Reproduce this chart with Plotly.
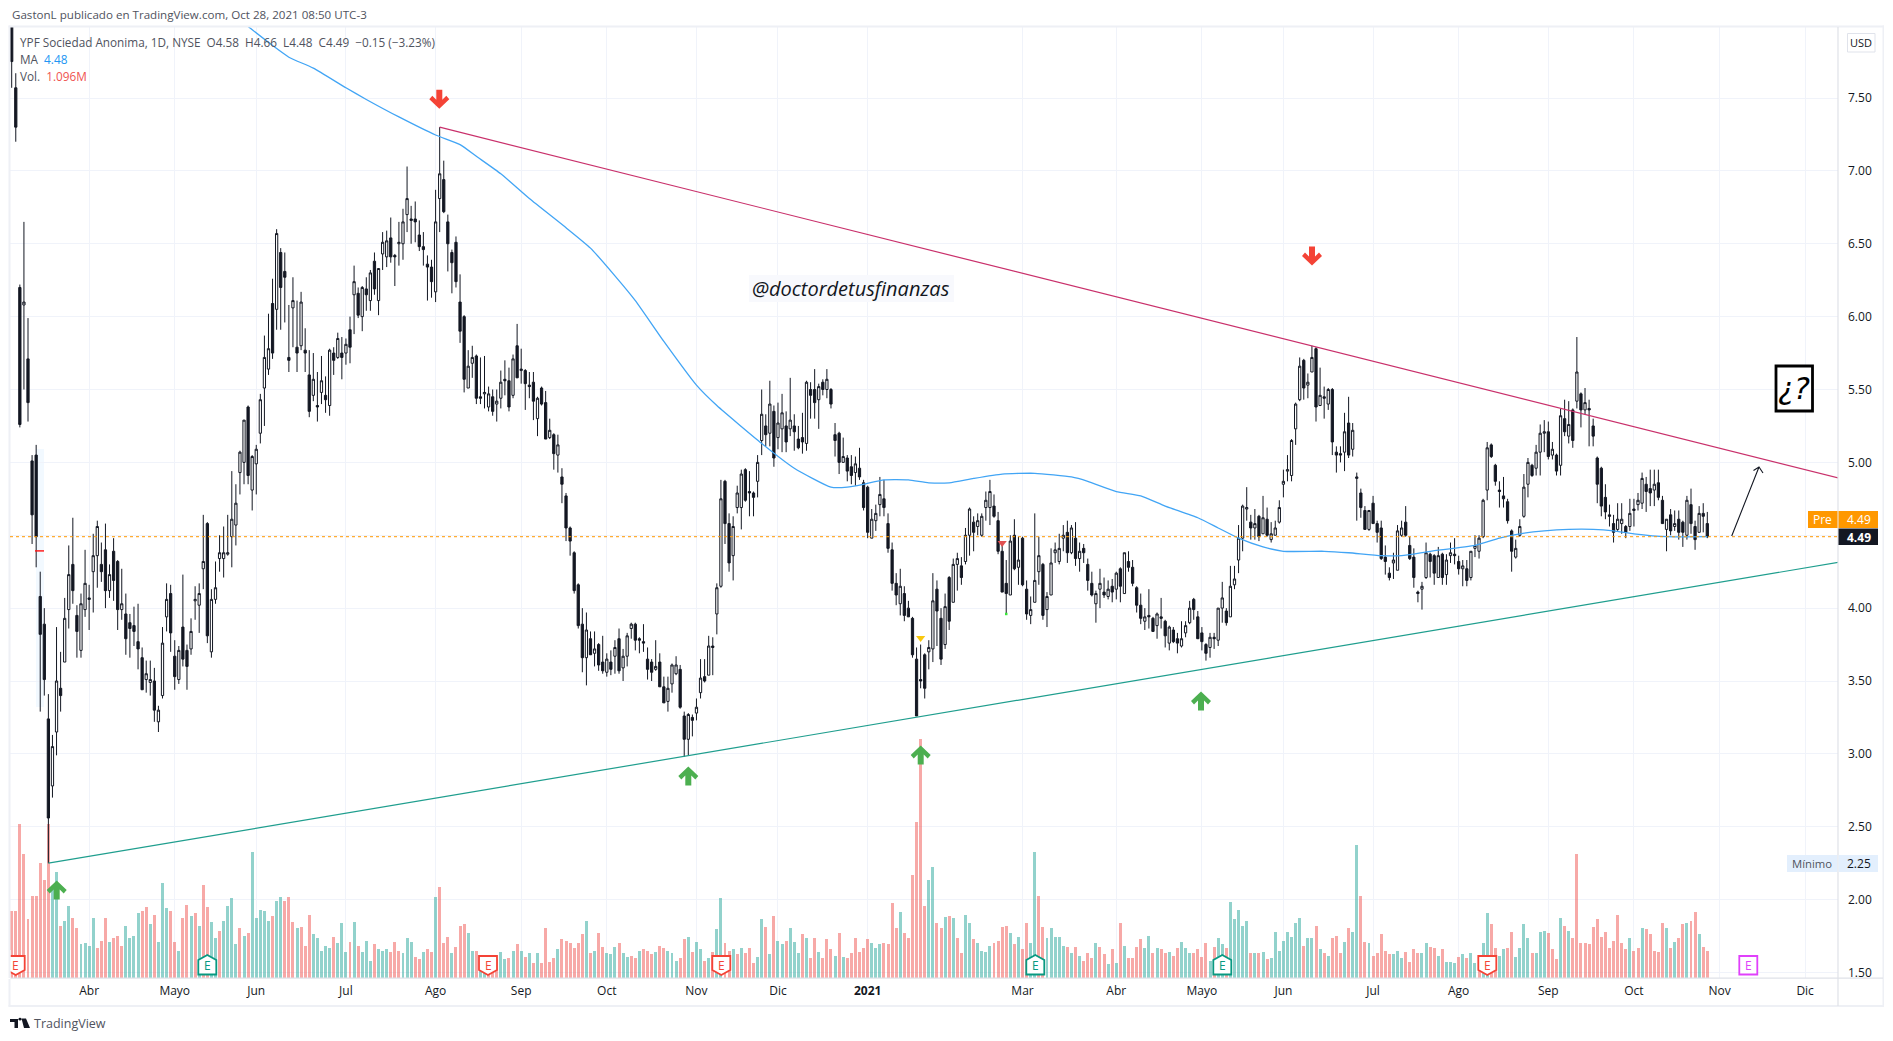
import plotly.graph_objects as go

# Each bar: open, high, low, close, volume in millions (negative = selling volume, drawn red)
mar20 = [(8.00,8.10,7.57,7.75,-2.7),(7.57,7.67,7.20,7.30,-2.7),(6.20,6.22,5.24,5.26,-6.2),(6.08,6.65,5.50,6.10,-5.0),
(5.71,5.99,5.28,5.41,-2.35),(5.01,5.05,4.44,4.64,-3.3),(5.05,5.12,4.28,4.49,-3.3),(4.08,4.25,3.29,3.82,-4.6),
(3.89,4.00,3.40,3.51,-3.95),(3.24,3.41,2.25,2.56,-6.2),(2.78,3.13,2.70,3.05,3.7),(3.15,3.87,2.99,3.50,4.25),
(3.45,3.70,3.29,3.40,-2.1),(3.63,4.07,3.63,3.93,2.3),(3.99,4.43,3.86,4.23,2.9),(4.30,4.62,4.03,4.12,-2.4),
(3.95,4.02,3.66,3.84,-2.0),(3.71,4.10,3.66,4.03,1.35),(3.99,4.40,3.94,4.17,1.4)]
abr20 = [(4.07,4.16,3.85,4.06,1.27),(4.25,4.51,3.97,4.36,2.4),(4.36,4.60,4.14,4.56,-1.2),(4.30,4.45,4.18,4.25,-1.5),
(4.40,4.58,4.00,4.12,-2.4),(4.12,4.30,4.07,4.23,1.45),(4.39,4.48,4.05,4.19,-1.6),(4.32,4.33,3.85,3.99,-1.7),
(3.99,4.27,3.92,4.03,-1.3),(3.96,4.10,3.68,3.79,2.1),(3.90,3.96,3.66,3.86,1.6),(3.88,4.01,3.74,3.84,1.7),
(3.77,4.03,3.58,3.72,2.6),(3.66,3.73,3.44,3.44,-2.7),(3.51,3.64,3.42,3.55,-2.85),(3.49,3.64,3.40,3.51,2.15),
(3.50,3.59,3.22,3.30,-2.55),(3.22,3.33,3.15,3.30,1.45),(3.40,3.87,3.38,3.76,3.8),(3.94,4.17,3.84,4.06,2.8),
(4.10,4.16,3.70,3.83,-2.7)]
may20 = [(3.67,3.78,3.44,3.53,-1.45),(3.51,3.74,3.48,3.71,1.1),(3.87,4.23,3.60,3.65,-2.4),(3.71,3.75,3.44,3.60,-2.95),
(3.72,3.93,3.68,3.84,2.5),(4.05,4.15,3.92,4.06,-2.6),(4.02,4.17,3.83,4.10,2.1),(4.27,4.64,4.13,4.32,-3.75),
(4.58,4.59,3.76,3.81,-2.85),(3.70,4.13,3.66,4.06,2.25),(4.06,4.32,4.03,4.14,1.6),(4.34,4.50,4.25,4.38,-1.9),
(4.34,4.56,4.21,4.38,2.3),(4.37,4.64,4.36,4.38,2.9),(4.49,4.94,4.28,4.61,3.2),(4.57,4.85,4.43,4.72,1.35),
(4.93,5.08,4.78,5.07,-2.0),(5.00,5.29,4.85,5.29,1.7),(5.38,5.39,4.85,4.91,-1.8),(4.81,5.05,4.67,5.04,5.05)]
jun20 = [(4.99,5.12,4.78,5.09,2.4),(5.20,5.47,5.13,5.43,2.75),(5.51,5.87,5.25,5.72,2.7),(5.64,6.02,5.60,5.78,2.3),
(6.09,6.26,5.71,5.75,-2.5),(6.05,6.60,5.91,6.57,3.1),(6.44,6.47,5.91,6.20,3.25),(6.31,6.44,5.96,6.27,-3.1),
(5.72,6.08,5.62,5.70,-3.25),(6.06,6.27,5.79,6.11,-2.25),(5.79,6.11,5.62,5.75,2.0),(5.80,6.17,5.77,6.10,-2.05),
(5.77,5.92,5.62,5.75,-1.3),(5.60,5.77,5.31,5.35,-2.55),(5.46,5.75,5.42,5.57,1.75),(5.39,5.62,5.28,5.38,1.6),
(5.48,5.73,5.40,5.56,1.1),(5.46,5.59,5.34,5.43,1.3),(5.39,5.78,5.32,5.77,1.2),(5.75,5.79,5.60,5.70,-1.65),
(5.72,5.89,5.71,5.85,1.4),(5.75,5.86,5.57,5.72,2.2)]
jul20 = [(5.75,5.85,5.67,5.81,1.05),(5.91,6.00,5.68,5.79,-1.45),(6.15,6.35,5.88,6.24,2.25),(6.16,6.20,5.99,6.01,-1.3),
(6.00,6.21,5.90,6.20,1.05),(6.19,6.27,6.04,6.15,1.5),(6.11,6.32,6.04,6.30,0.7),(6.38,6.44,6.15,6.19,-1.35),
(6.11,6.33,6.01,6.33,1.15),(6.43,6.58,6.32,6.51,1.1),(6.41,6.59,6.34,6.52,1.15),(6.54,6.68,6.37,6.41,-1.05),
(6.42,6.43,6.21,6.41,-1.45),(6.50,6.65,6.35,6.51,-1.1),(6.50,6.74,6.39,6.65,1.0),(6.70,7.03,6.58,6.81,1.6),
(6.67,6.76,6.50,6.66,1.45),(6.67,6.79,6.51,6.65,-0.85),(6.56,6.66,6.45,6.48,-0.75),(6.48,6.58,6.35,6.46,1.05),
(6.36,6.42,6.11,6.34,-1.15),(6.34,6.39,6.13,6.24,-1.05)]
ago20 = [(6.17,6.87,6.10,6.65,3.25),(6.81,7.30,6.58,6.98,-3.65),(6.94,7.07,6.71,6.72,-1.4),(6.65,6.70,6.31,6.50,-1.65),
(6.44,6.46,6.16,6.37,1.0),(6.51,6.55,6.20,6.24,-1.25),(6.10,6.29,5.82,5.90,-2.1),(6.00,6.01,5.48,5.57,-2.15),
(5.51,5.77,5.51,5.66,1.8),(5.68,5.80,5.58,5.72,1.1),(5.73,5.74,5.40,5.44,-1.1),(5.45,5.72,5.40,5.44,0.6),
(5.47,5.73,5.37,5.48,0.7),(5.38,5.52,5.35,5.47,-0.7),(5.45,5.50,5.32,5.35,-0.8),(5.40,5.50,5.28,5.42,-0.75),
(5.44,5.63,5.37,5.55,1.05),(5.57,5.70,5.46,5.56,0.75),(5.56,5.65,5.35,5.38,-0.8),(5.46,5.74,5.44,5.71,1.1),
(5.80,5.95,5.58,5.58,-1.35)]
sep20 = [(5.63,5.78,5.54,5.64,1.1),(5.63,5.64,5.36,5.54,-0.85),(5.53,5.62,5.44,5.52,1.0),(5.55,5.62,5.29,5.42,-0.6),
(5.30,5.45,5.18,5.44,1.0),(5.51,5.52,5.39,5.40,-0.6),(5.41,5.49,5.16,5.16,-2.0),(5.17,5.30,5.16,5.22,-0.65),
(5.19,5.20,4.95,5.06,-0.8),(5.05,5.19,4.93,5.12,1.15),(4.90,4.96,4.72,4.85,-1.55),(4.77,4.79,4.46,4.55,-1.5),
(4.55,4.56,4.36,4.46,-1.4),(4.38,4.39,4.10,4.12,-1.2),(4.16,4.17,3.86,3.88,-1.4),(3.89,4.00,3.56,3.66,-1.75),
(3.66,3.97,3.47,3.85,2.3),(3.79,3.84,3.68,3.68,-1.0),(3.69,3.84,3.60,3.72,1.1),(3.75,3.76,3.57,3.61,-1.8),
(3.63,3.81,3.55,3.57,-1.25)]
oct20 = [(3.56,3.69,3.53,3.65,1.0),(3.63,3.71,3.54,3.58,0.95),(3.67,3.78,3.55,3.73,1.25),(3.79,3.86,3.55,3.57,-1.4),
(3.59,3.72,3.50,3.67,1.0),(3.67,3.83,3.60,3.81,0.85),(3.86,3.90,3.79,3.89,-0.9),(3.89,3.90,3.71,3.78,-0.8),
(3.79,3.80,3.69,3.78,1.1),(3.77,3.89,3.70,3.76,-1.15),(3.65,3.73,3.51,3.58,-1.1),(3.63,3.65,3.50,3.56,-0.95),
(3.58,3.78,3.57,3.60,1.05),(3.63,3.69,3.46,3.46,-1.3),(3.46,3.53,3.35,3.35,-1.2),(3.36,3.53,3.29,3.45,1.1),
(3.48,3.62,3.42,3.61,1.0),(3.55,3.67,3.54,3.61,0.7),(3.58,3.61,3.31,3.32,-0.8),(3.26,3.29,2.98,3.10,-1.55),
(3.10,3.28,2.99,3.27,1.65),(3.25,3.27,3.12,3.23,-1.05)]
nov20 = [(3.28,3.38,3.23,3.32,1.45),(3.42,3.65,3.38,3.52,1.15),(3.53,3.65,3.49,3.50,-0.7),(3.54,3.81,3.54,3.74,0.8),
(3.74,3.80,3.54,3.73,-1.05),(3.96,4.17,3.82,4.14,1.95),(4.15,4.88,4.14,4.75,3.2),(4.87,4.88,4.44,4.58,-1.4),
(4.58,4.65,4.25,4.31,-1.1),(4.36,4.63,4.19,4.56,1.15),(4.69,4.84,4.65,4.79,-0.95),(4.69,4.95,4.54,4.92,1.2),
(4.95,4.96,4.73,4.74,-1.0),(4.80,4.94,4.63,4.79,-1.2),(4.79,4.80,4.63,4.76,-0.6),(4.87,5.05,4.76,5.00,0.85),
(5.15,5.50,5.05,5.33,2.35),(5.25,5.33,5.11,5.19,-2.05),(5.20,5.56,5.11,5.40,0.95),(5.35,5.39,4.97,5.03,-2.5)]
dic20 = [(5.17,5.41,5.09,5.27,1.5),(5.23,5.47,5.07,5.34,1.35),(5.25,5.35,5.07,5.14,-1.5),(5.23,5.58,5.18,5.29,2.0),
(5.25,5.33,5.08,5.21,1.45),(5.16,5.25,5.09,5.10,1.0),(5.17,5.34,5.06,5.14,-1.75),(5.13,5.56,5.08,5.55,1.6),
(5.50,5.55,5.30,5.46,-0.8),(5.50,5.64,5.30,5.41,-1.6),(5.43,5.54,5.23,5.52,1.05),(5.55,5.57,5.46,5.50,-0.8),
(5.50,5.64,5.44,5.57,-1.55),(5.50,5.51,5.37,5.40,-1.15),(5.19,5.27,5.04,5.15,0.9),(5.20,5.21,4.92,5.00,-1.8),
(5.00,5.17,5.00,5.04,0.85),(5.03,5.05,4.87,4.94,-0.8),(4.97,5.05,4.85,4.91,-1.0),(4.93,5.04,4.84,4.99,-1.6),
(4.96,5.10,4.88,4.90,-1.05),(4.86,4.88,4.67,4.69,-1.2)]
ene_feb21 = [(4.83,4.84,4.48,4.52,-1.55),(4.48,4.68,4.48,4.61,1.4),(4.60,4.71,4.53,4.65,1.2),(4.71,4.90,4.63,4.78,1.35),
(4.75,4.88,4.63,4.69,-1.4),(4.58,4.65,4.38,4.41,-1.35),(4.40,4.45,4.12,4.17,-3.0),(4.17,4.24,4.02,4.09,-2.0),
(4.03,4.27,3.95,4.15,2.65),(4.10,4.15,3.91,3.95,-1.8),(4.00,4.05,3.94,3.94,-1.6),(3.93,3.94,3.66,3.68,-4.15),
(3.65,3.73,3.26,3.26,-6.25),(3.51,3.75,3.45,3.50,-9.6),(3.68,3.69,3.38,3.45,-2.9),(3.70,3.78,3.58,3.73,3.95),
(3.72,4.24,3.63,4.05,4.45),(4.13,4.19,3.74,3.98,-2.2),(3.93,4.00,3.61,3.65,-2.0),(3.75,4.10,3.72,4.01,2.45),
(4.21,4.22,3.85,3.91,-2.5),(4.04,4.34,4.04,4.30,2.4),(4.30,4.38,4.12,4.34,-1.6),(4.29,4.35,4.16,4.21,-1.0),
(4.32,4.55,4.30,4.50,2.55),(4.50,4.69,4.36,4.68,2.2),(4.59,4.63,4.39,4.52,-1.55),(4.56,4.65,4.50,4.60,1.4),
(4.50,4.65,4.49,4.63,1.1),(4.69,4.80,4.60,4.74,1.05),(4.69,4.88,4.57,4.80,1.3),(4.70,4.78,4.62,4.63,-1.4),
(4.60,4.66,4.37,4.39,-1.5),(4.39,4.45,4.11,4.11,-2.05),(4.17,4.33,3.96,4.10,-2.1),(4.09,4.50,4.09,4.46,1.8),
(4.50,4.61,4.26,4.27,-1.35),(4.28,4.49,4.16,4.33,1.65)]
mar21 = [(4.48,4.49,4.15,4.16,-1.15),(4.13,4.19,3.92,3.96,-2.2),(3.95,4.08,3.89,3.99,1.4),(4.04,4.65,4.04,4.19,5.05),
(4.25,4.49,4.16,4.36,-3.3),(4.30,4.31,3.92,3.95,-2.05),(3.99,4.11,3.87,4.08,1.6),(4.09,4.41,4.09,4.31,2.0),
(4.38,4.45,4.31,4.40,1.65),(4.32,4.51,4.30,4.41,1.65),(4.48,4.57,4.39,4.50,1.3),(4.52,4.60,4.31,4.38,-1.25),
(4.38,4.57,4.37,4.55,1.0),(4.48,4.59,4.29,4.34,-1.25),(4.34,4.45,4.25,4.39,0.9),(4.41,4.44,4.31,4.38,-0.7),
(4.30,4.34,4.12,4.19,-1.0),(4.17,4.25,4.08,4.09,-0.8),(4.03,4.12,3.90,4.10,1.4),(4.13,4.27,4.00,4.17,-1.25),
(4.11,4.21,4.07,4.09,-0.95),(4.08,4.19,4.06,4.13,0.55),(4.15,4.20,4.04,4.11,-1.15)]
abr21 = [(4.13,4.25,4.06,4.24,0.6),(4.27,4.28,4.04,4.15,-2.2),(4.10,4.38,4.10,4.38,1.3),(4.32,4.39,4.25,4.28,-0.8),
(4.28,4.33,4.15,4.17,-0.8),(4.14,4.15,3.97,4.02,-1.25),(4.02,4.10,3.89,3.93,-1.55),(3.91,4.00,3.85,3.94,1.2),
(3.95,4.13,3.86,3.94,1.7),(3.93,3.94,3.84,3.84,-1.0),(3.88,3.97,3.79,3.96,1.2),(3.94,4.07,3.86,3.93,-1.15),
(3.91,3.92,3.73,3.81,-1.0),(3.76,3.88,3.71,3.87,1.05),(3.85,3.87,3.76,3.77,-0.9),(3.79,3.83,3.69,3.76,-1.2),
(3.74,3.91,3.73,3.79,1.45),(3.83,3.91,3.80,3.88,1.2),(3.90,4.05,3.89,4.00,1.0),(4.06,4.07,3.92,3.99,-1.0),
(3.94,3.98,3.79,3.79,-1.15)]
may21 = [(3.83,3.87,3.71,3.77,-0.85),(3.75,3.76,3.64,3.69,-1.4),(3.73,3.83,3.66,3.80,0.7),(3.80,3.83,3.72,3.79,-1.25),
(3.78,4.00,3.74,4.00,1.6),(4.00,4.18,3.90,4.07,1.35),(3.98,4.00,3.88,3.90,-1.2),(3.94,4.29,3.94,4.15,3.05),
(4.16,4.29,4.13,4.20,2.35),(4.33,4.57,4.24,4.48,2.75),(4.48,4.71,4.39,4.70,2.1),(4.68,4.83,4.60,4.69,2.3),
(4.59,4.64,4.47,4.55,-1.0),(4.55,4.68,4.47,4.58,1.0),(4.63,4.64,4.46,4.49,-1.0),(4.51,4.77,4.51,4.62,1.05),
(4.61,4.69,4.49,4.50,-0.75),(4.47,4.59,4.45,4.51,0.8),(4.50,4.60,4.50,4.55,1.85),(4.59,4.74,4.58,4.69,1.1)]
jun21 = [(4.85,4.95,4.76,4.87,1.5),(4.94,5.05,4.87,4.95,1.85),(4.91,5.16,4.87,5.15,1.65),(5.23,5.41,5.12,5.40,2.2),
(5.43,5.72,5.42,5.66,2.4),(5.70,5.71,5.43,5.51,-1.3),(5.53,5.61,5.44,5.55,1.6),(5.62,5.80,5.62,5.72,1.6),
(5.78,5.79,5.28,5.38,-2.1),(5.39,5.65,5.39,5.46,1.15),(5.45,5.52,5.30,5.44,-1.0),(5.40,5.51,5.36,5.50,0.9),
(5.50,5.51,5.05,5.14,-1.6),(5.07,5.11,4.93,5.05,-1.7),(5.06,5.11,5.00,5.05,-1.0),(5.07,5.34,4.94,5.21,1.45),
(5.27,5.45,5.03,5.05,-2.0),(5.09,5.27,5.04,5.22,1.85),(4.89,4.93,4.60,4.90,5.35),(4.79,4.82,4.62,4.69,-3.3),
(4.67,4.70,4.54,4.54,-1.45),(4.54,4.67,4.53,4.67,1.4)]
jul21 = [(4.72,4.77,4.58,4.58,-0.9),(4.58,4.60,4.45,4.52,-1.0),(4.55,4.60,4.33,4.34,-1.75),(4.35,4.43,4.23,4.32,-1.1),
(4.24,4.28,4.19,4.21,-0.95),(4.31,4.38,4.20,4.33,0.95),(4.26,4.57,4.26,4.53,1.1),(4.50,4.60,4.49,4.55,0.8),
(4.59,4.70,4.49,4.50,-1.05),(4.43,4.49,4.33,4.34,-0.65),(4.35,4.41,4.14,4.21,-1.15),(4.11,4.12,4.04,4.10,-1.0),
(4.13,4.18,3.99,4.15,1.0),(4.21,4.45,4.20,4.38,1.4),(4.37,4.38,4.21,4.32,-1.25),(4.36,4.37,4.16,4.24,-1.2),
(4.21,4.42,4.21,4.36,0.9),(4.37,4.38,4.16,4.21,-1.15),(4.23,4.37,4.16,4.33,0.65),(4.36,4.45,4.31,4.38,0.65),
(4.37,4.48,4.30,4.36,0.6)]
ago21 = [(4.32,4.36,4.23,4.27,-0.85),(4.27,4.33,4.15,4.29,0.95),(4.27,4.33,4.15,4.19,-0.8),(4.21,4.39,4.19,4.39,1.0),
(4.41,4.50,4.35,4.43,0.6),(4.39,4.50,4.34,4.48,-0.85),(4.49,4.75,4.48,4.74,1.4),(4.81,5.14,4.74,5.10,2.6),
(5.12,5.13,5.03,5.04,-2.15),(4.98,4.99,4.84,4.87,-1.2),(4.81,4.87,4.69,4.80,0.9),(4.77,4.90,4.69,4.75,1.15),
(4.73,4.75,4.58,4.60,-1.2),(4.53,4.54,4.25,4.39,-1.85),(4.35,4.47,4.34,4.41,0.85),(4.50,4.61,4.49,4.56,1.2),
(4.63,4.92,4.62,4.83,2.15),(4.85,5.03,4.76,5.00,1.6),(4.98,4.99,4.90,4.91,-1.0),(4.96,5.12,4.91,5.07,1.0),
(5.07,5.26,4.91,5.20,1.85),(5.20,5.29,5.07,5.21,1.9)]
sep21 = [(5.21,5.28,5.02,5.04,-1.8),(5.05,5.14,5.02,5.09,-1.15),(5.05,5.06,4.91,4.94,-0.75),(4.98,5.37,4.91,5.32,2.4),
(5.30,5.43,5.18,5.21,-2.1),(5.18,5.42,5.13,5.26,1.9),(5.36,5.37,5.10,5.15,-1.6),(5.42,5.86,5.37,5.62,-5.0),
(5.47,5.48,5.24,5.36,-1.4),(5.36,5.51,5.33,5.41,-1.4),(5.37,5.43,5.11,5.36,-1.35),(5.25,5.30,5.11,5.18,-2.05),
(5.03,5.04,4.72,4.85,-2.35),(4.96,4.97,4.63,4.70,-1.65),(4.76,4.85,4.61,4.66,-1.85),(4.64,4.71,4.56,4.63,-1.2),
(4.58,4.64,4.45,4.52,-1.5),(4.54,4.72,4.53,4.61,-2.55),(4.58,4.72,4.51,4.61,-1.4),(4.56,4.57,4.48,4.52,-1.15),
(4.56,4.75,4.53,4.65,1.6)]
oct21 = [(4.68,4.75,4.56,4.67,-1.1),(4.71,4.79,4.67,4.74,-1.2),(4.72,4.93,4.68,4.89,2.0),(4.85,4.90,4.66,4.80,-1.95),
(4.82,4.95,4.70,4.79,-1.75),(4.81,4.95,4.70,4.85,-1.1),(4.86,4.95,4.74,4.76,-1.05),(4.74,4.77,4.58,4.58,-2.2),
(4.54,4.61,4.39,4.61,2.0),(4.64,4.68,4.50,4.53,-1.2),(4.56,4.67,4.53,4.58,1.45),(4.61,4.67,4.47,4.52,-1.6),
(4.59,4.60,4.42,4.52,-2.15),(4.50,4.77,4.47,4.74,2.2),(4.71,4.82,4.51,4.58,-2.3),(4.56,4.60,4.40,4.47,-2.65),
(4.52,4.70,4.52,4.65,1.75),(4.65,4.72,4.52,4.63,-1.25),(4.58,4.66,4.48,4.49,-1.096)]

months = [("", mar20), ("Abr", abr20), ("Mayo", may20), ("Jun", jun20), ("Jul", jul20), ("Ago", ago20),
          ("Sep", sep20), ("Oct", oct20), ("Nov", nov20), ("Dic", dic20), ("<b>2021</b>", ene_feb21), ("Mar", mar21),
          ("Abr", abr21), ("Mayo", may21), ("Jun", jun21), ("Jul", jul21), ("Ago", ago21), ("Sep", sep21), ("Oct", oct21)]
future_ticks = [("Nov", 3), ("Dic", 24)]  # bars after the last one

price_ticks = [1.5, 2.0, 2.5, 3.0, 3.5, 4.0, 4.5, 5.0, 5.5, 6.0, 6.5, 7.0, 7.5]

ma_bar = [58,64,68,74,82,87,95,104,110,114,120,127,136,142,148,153,160,168,173,184,192,201,205,209,214,220,225,230,236,243,
          251,260,264,271,277,283,291,296,301,307,312,322,328,336,341,348,359,365,370,376,382,388,393,398,406,416]
ma_val = [7.99,7.86,7.78,7.705,7.57,7.49,7.37,7.246,7.18,7.10,6.98,6.81,6.61,6.47,6.28,6.11,5.83,5.53,5.39,5.13,4.96,4.83,4.83,4.85,4.88,4.88,4.86,4.86,4.89,4.92,
          4.925,4.90,4.87,4.80,4.77,4.70,4.62,4.55,4.48,4.42,4.39,4.39,4.38,4.36,4.36,4.39,4.43,4.48,4.51,4.53,4.54,4.54,4.53,4.51,4.49,4.49]

resist_bar = [105, 449]; resist_val = [7.30, 4.887]
support_bar = [9, 449]; support_val = [2.25, 4.318]
last_price = 4.49

# ---------------------------------------------------------------------------
bars = [b for _, m in months for b in m]
N = len(bars)
opens = [b[0] for b in bars]; highs = [b[1] for b in bars]; lows = [b[2] for b in bars]; closes = [b[3] for b in bars]
vols = [abs(b[4]) for b in bars]
vol_colors = ["rgba(38,166,154,0.5)" if b[4] > 0 else "rgba(239,83,80,0.5)" for b in bars]
idx = list(range(N))

tick_vals, tick_text, pos = [], [], 0
for name, m in months:
    if name:
        tick_vals.append(pos); tick_text.append(name)
    pos += len(m)
for name, off in future_ticks:
    tick_vals.append(N - 1 + off); tick_text.append(name)

# pixel frame of the plot area
W, H = 1893, 1041
L, R, T, B = 10, 1838, 26, 978
SP = (1707.3 - 11.7) / (N - 1)
xr = [(L - 11.7) / SP, (R - 11.7) / SP]
yscale = 145.75
yr = [7.5 - (B - 98) / yscale, 7.5 - (T - 98) / yscale]
vscale = 24.9
FONT = "Open Sans"

def fx(px): return (px - L) / (R - L)
def fy(py): return (B - py) / (B - T)

fig = go.Figure()
fig.add_trace(go.Bar(x=idx, y=vols, marker=dict(color=vol_colors, line_width=0), width=0.73, yaxis="y", hoverinfo="skip"))
fig.add_trace(go.Candlestick(x=idx, open=opens, high=highs, low=lows, close=closes, yaxis="y2", whiskerwidth=0,
    increasing=dict(line=dict(color="#131722", width=1), fillcolor="#ffffff"),
    decreasing=dict(line=dict(color="#131722", width=1), fillcolor="#131722")))
fig.add_trace(go.Scatter(x=ma_bar, y=ma_val, mode="lines", yaxis="y2", line=dict(color="#42a5f5", width=1.3, shape="spline", smoothing=0.5)))
fig.add_trace(go.Scatter(x=resist_bar, y=resist_val, mode="lines", yaxis="y2", line=dict(color="#c9306b", width=1.2)))
fig.add_trace(go.Scatter(x=support_bar, y=support_val, mode="lines", yaxis="y2", line=dict(color="#1f9e8e", width=1.2)))
# small drawn markers
fig.add_trace(go.Scatter(x=[223], y=[3.795], mode="markers", yaxis="y2", marker=dict(symbol="triangle-down", size=8, color="#f9c80e")))
fig.add_trace(go.Scatter(x=[243], y=[4.447], mode="markers", yaxis="y2", marker=dict(symbol="triangle-down", size=8, color="#e05050")))
fig.add_trace(go.Scatter(x=[244], y=[3.96], mode="markers", yaxis="y2", marker=dict(symbol="square", size=2.5, color="#39e639")))

shapes, ann = [], []
def rect(x0, y0, x1, y1, fill, line=None, lw=0, layer="above"):
    shapes.append(dict(type="rect", xref="paper", yref="paper", x0=fx(x0), x1=fx(x1), y0=fy(y0), y1=fy(y1),
                       fillcolor=fill, line=dict(color=line or fill, width=lw), layer=layer))
def text(px, py, s, size=12, color="#131722", anchor="left", **kw):
    ann.append(dict(xref="paper", yref="paper", x=fx(px), y=fy(py), text=s, showarrow=False, xanchor=anchor, yanchor="middle",
                    font=dict(family=kw.pop("family", FONT), size=size, color=color), **kw))
def pix(px, py, path, fill=None, line=None, lw=0):
    shapes.append(dict(type="path", xref="paper", yref="paper", xsizemode="pixel", ysizemode="pixel", xanchor=fx(px), yanchor=fy(py),
                       path=path, fillcolor=fill or "rgba(0,0,0,0)", line=dict(color=line or "rgba(0,0,0,0)", width=lw), layer="above"))

# frame
frame = "#eef0f5"
rect(8.5, 25.5, 1884, 27.5, frame); rect(8.5, 25.5, 10.5, 1006.5, frame)
rect(8.5, 1005, 1884, 1007, frame); rect(1882.5, 25.5, 1884, 1007, frame)
rect(10, 977.6, 1883, 978.8, "#dfe2e8"); rect(1837.4, 27, 1838.6, 1006, "#dfe2e8")
# highlight and last-price line
rect(36, 449, 44, 707, "#f2f9ff", layer="below")
rect(35, 550.2, 44, 551.6, "#ff1010")
shapes.append(dict(type="line", xref="paper", yref="y2", x0=0, x1=1, y0=last_price, y1=last_price,
                   line=dict(color="#ff9800", width=1, dash="dot"), layer="above"))

# arrows
UP = "M0,9.5 L10,0 L7,-3.5 L3,0.5 L3,-9.5 L-3,-9.5 L-3,0.5 L-7,-3.5 L-10,0 Z"
DN = "M0,-9.5 L10,0 L7,3.5 L3,-0.5 L3,9.5 L-3,9.5 L-3,-0.5 L-7,3.5 L-10,0 Z"
for px, py in [(56.7, 890), (688.3, 776), (920.7, 755), (1201, 701)]:
    pix(px, py, UP, fill="#4caf50")
for px, py in [(439.3, 99.3), (1312, 256)]:
    pix(px, py, DN, fill="#f44336")
pix(1759, 467, "M-27.3,-69 L0,0 M-5.5,-3.5 L0,0 L4,-6", line="#131722", lw=1.1)

# earnings flags
DOWN_FLAG = "M-9,9 L9,9 L9,-5 L0,-10 L-9,-5 Z"
UP_FLAG = "M-9,-9.5 L9,-9.5 L9,5 L0,10 L-9,5 Z"
for px, kind, col in [(15.7,"d","#f44336"),(207.3,"u","#089981"),(488,"d","#f44336"),(721.3,"d","#f44336"),
                      (1035.3,"u","#089981"),(1222.3,"u","#089981"),(1487.3,"d","#f44336"),(1748.3,"s","#e040fb")]:
    if kind == "s":
        rect(px-9, 956, px+9, 974.5, "#ffffff", col, 1.8)
    else:
        pix(px, 965, DOWN_FLAG if kind == "d" else UP_FLAG, fill="#ffffff", line=col, lw=1.8)
    text(px, 965.5, "E", size=12, color=col, anchor="center")
# cover the part of the first flag that the frame cuts off
rect(4, 950, 10.5, 979, "#ffffff"); rect(8.5, 950, 10.5, 978, frame)

# question box
rect(1776, 366, 1812.5, 411, "#ffffff", "#000000", 2.8)
text(1794, 388, "<i>¿?</i>", size=30, color="#000000", anchor="center", family="DejaVu Sans")
# handle
rect(749, 275, 954, 302, "#f8f9fd")
text(851, 288.5, "<i>@doctordetusfinanzas</i>", size=20, color="#131722", anchor="center")

# header / legend
text(10, 14.7, "GastonL publicado en TradingView.com, Oct 28, 2021 08:50 UTC-3", size=11.6, color="#50535e")
text(17.5, 41.7, "YPF Sociedad Anonima, 1D, NYSE&nbsp;&nbsp;O4.58&nbsp;&nbsp;H4.66&nbsp;&nbsp;L4.48&nbsp;&nbsp;C4.49&nbsp;&nbsp;−0.15 (−3.23%)", size=11.75, color="#50535e")
text(17.5, 58.7, "MA&nbsp;&nbsp;<span style='color:#2196f3'>4.48</span>", size=11.75, color="#50535e")
text(17.5, 75.7, "Vol.&nbsp;&nbsp;<span style='color:#ef5350'>1.096M</span>", size=11.75, color="#50535e")

# price-axis labels
rect(1808, 511, 1837.5, 528, "#ff9800", layer="above")
rect(1838.5, 511, 1878, 528, "#ff9800")
rect(1838.5, 528.5, 1878, 545, "#131722")
text(1822.5, 519.8, "Pre", color="#ffffff", anchor="center")
text(1859.5, 519.8, "4.49", color="#ffffff", anchor="center")
text(1859.5, 537, "<b>4.49</b>", color="#ffffff", anchor="center")
rect(1787, 855, 1837.2, 872, "#e3effd")
rect(1838.5, 855, 1878, 872, "#e3effd")
text(1812, 863.8, "Mínimo", size=11.3, color="#50535e", anchor="center")
text(1859.5, 863.8, "2.25", anchor="center")
shapes.append(dict(type="rect", xref="paper", yref="paper", x0=fx(1847.5), x1=fx(1875), y0=fy(33.5), y1=fy(52),
                   line=dict(color="#e0e3eb", width=1), fillcolor="#ffffff"))
text(1861, 42.8, "USD", size=11, anchor="center")

# footer logo + name
pix(10, 1023, "M0,4 H8 V-5 H4.5 V1 H0 Z M14,-5 H20 L16,4.5 H11.5 Z", fill="#131722")
shapes.append(dict(type="circle", xref="paper", yref="paper", x0=fx(18.5), x1=fx(21.5), y0=fy(1020.5), y1=fy(1017.8), fillcolor="#131722", line_width=0))
text(32, 1023, "TradingView", size=12.5, color="#50535e")

fig.update_layout(
    width=W, height=H, autosize=False, showlegend=False, paper_bgcolor="#ffffff", plot_bgcolor="#ffffff",
    margin=dict(l=L, r=W - R, t=T, b=H - B, autoexpand=False), boxgap=0.45, boxgroupgap=0, bargap=0,
    font=dict(family=FONT, size=12, color="#131722"),
    xaxis=dict(range=xr, tickmode="array", tickvals=tick_vals, ticktext=tick_text, showgrid=True, gridcolor="#f0f3fa", gridwidth=1,
               zeroline=False, ticks="", ticklabelstandoff=4, rangeslider=dict(visible=False), showline=False, tickfont=dict(size=12, color="#131722")),
    yaxis=dict(range=[0, (B - T) / vscale], visible=False, showgrid=False, zeroline=False),
    yaxis2=dict(range=yr, overlaying="y", side="right", tickmode="array", tickvals=price_ticks, ticktext=[f"{p:.2f}" for p in price_ticks],
                showgrid=True, gridcolor="#f0f3fa", gridwidth=1, zeroline=False, ticks="", ticklabelstandoff=9, showline=False, tickfont=dict(size=12, color="#131722")),
    shapes=shapes, annotations=ann,
)
fig.write_html("out.html", config=dict(displayModeBar=False), post_script="document.body.style.margin='0';document.documentElement.style.overflow='hidden';")
